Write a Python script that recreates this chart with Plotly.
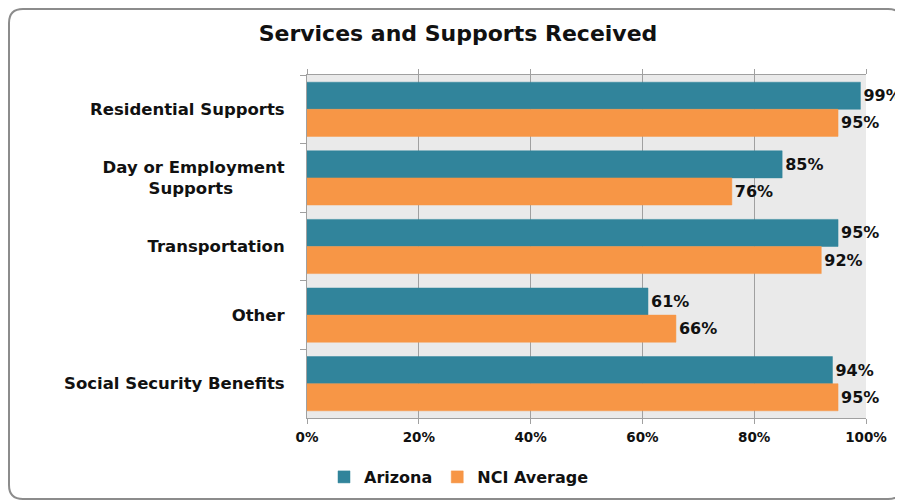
import plotly.graph_objects as go

categories = ["Residential Supports", "Day or Employment<br>Supports" + "\u00a0" * 9,
              "Transportation", "Other", "Social Security Benefits"]
arizona = [99, 85, 95, 61, 94]
nci_average = [95, 76, 92, 66, 95]
x_ticks = [0, 20, 40, 60, 80, 100]
x_tick_labels = ["0%", "20%", "40%", "60%", "80%", "100%"]

TEAL = "#31849B"
ORANGE = "#F79646"
FONT = "DejaVu Sans"
TXT = "#111111"

# page has an 8px body margin; figure fills the rest of the 903x501 window
OFF = 8
W, H = 903 - OFF, 501 - OFF
L, R, T, B = 307 - OFF, 866 - OFF, 75 - OFF, 418 - OFF

fig = go.Figure()
for name, vals, col in [("Arizona", arizona, TEAL), ("NCI Average", nci_average, ORANGE)]:
    fig.add_trace(go.Bar(
        y=categories, x=vals, name=name, orientation="h",
        marker=dict(color=col, line=dict(color=col, width=0.5)),
        text=[f"{v}%" for v in vals], textposition="outside",
        textfont=dict(family=FONT, size=16, color=TXT, weight="bold"),
        cliponaxis=False,
    ))

def px(x):
    return (x - L) / (R - L)

def py(y):
    return (B - y) / (B - T)

x0, x1, y0, y1, r = 1, 894, 1, 491, 14
path = (f"M {px(x0+r)} {py(y0)} L {px(x1-r)} {py(y0)} Q {px(x1)} {py(y0)} {px(x1)} {py(y0+r)} "
        f"L {px(x1)} {py(y1-r)} Q {px(x1)} {py(y1)} {px(x1-r)} {py(y1)} "
        f"L {px(x0+r)} {py(y1)} Q {px(x0)} {py(y1)} {px(x0)} {py(y1-r)} "
        f"L {px(x0)} {py(y0+r)} Q {px(x0)} {py(y0)} {px(x0+r)} {py(y0)} Z")

fig.update_layout(
    width=W, height=H,
    margin=dict(l=L, r=W - R, t=T, b=H - B, pad=0),
    paper_bgcolor="white", plot_bgcolor="#EAEAEA",
    barmode="group", bargap=0.21, bargroupgap=0,
    title=dict(text="Services and Supports Received", x=450 / W, xanchor="center",
               y=1 - 25 / H, yanchor="middle",
               font=dict(family=FONT, size=22, color=TXT, weight="bold")),
    legend=dict(orientation="h", xref="container", yref="container",
                x=451 / W, xanchor="center", y=(H - 469) / H, yanchor="middle",
                bgcolor="rgba(0,0,0,0)",
                font=dict(family=FONT, size=16, color=TXT, weight="bold"),
                itemwidth=30, traceorder="normal"),
    shapes=[dict(type="path", xref="paper", yref="paper", path=path,
                 line=dict(color="#8C8C8C", width=2), fillcolor="rgba(0,0,0,0)", layer="below")],
    xaxis=dict(range=[0, 100], tickvals=x_ticks, ticktext=x_tick_labels,
               showgrid=True, gridcolor="#A0A0A0", gridwidth=1,
               showline=True, linecolor="#A0A0A0", linewidth=1, mirror="ticks",
               ticks="outside", ticklen=5, tickcolor="#A0A0A0", ticklabelstandoff=2,
               tickfont=dict(family=FONT, size=13.5, color=TXT, weight="bold"),
               zeroline=False, fixedrange=True),
    yaxis=dict(autorange="reversed", tickson="boundaries", ticks="outside", ticklen=6,
               tickcolor="#A0A0A0", showline=True, linecolor="#A0A0A0", linewidth=1,
               showgrid=False, ticklabelstandoff=18,
               tickfont=dict(family=FONT, size=16.5, color=TXT, weight="bold"),
               fixedrange=True),
)

fig.write_html("out.html")
